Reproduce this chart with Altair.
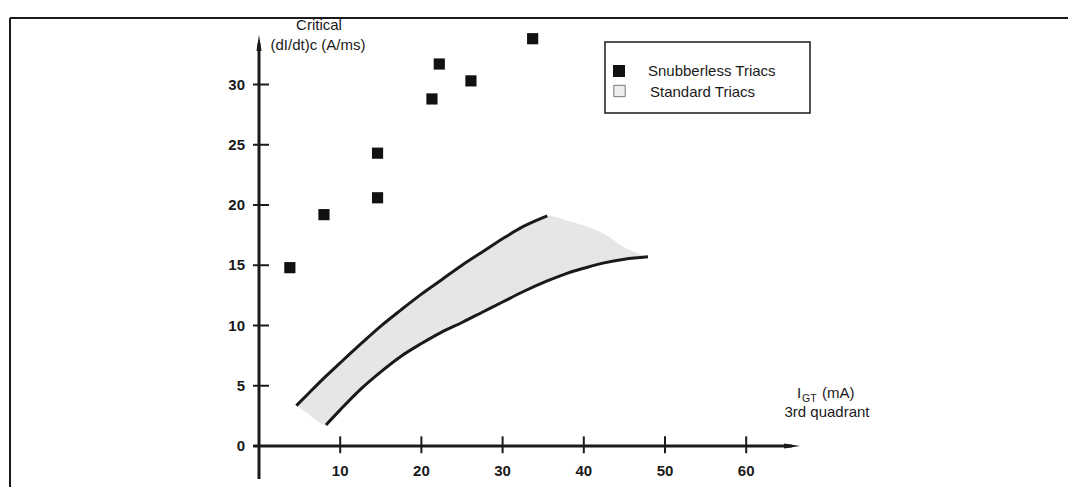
import altair as alt
import pandas as pd

# ---------------- data ----------------
# Snubberless triacs: IGT (mA) vs critical (dI/dt)c (A/ms)
snub_igt = [3.8, 8.0, 14.6, 14.6, 21.3, 22.2, 26.1, 33.7]
snub_didt = [14.8, 19.2, 24.3, 20.6, 28.8, 31.7, 30.3, 33.8]

# Standard triacs: upper and lower limit curves of the band
upper_igt = [4.6, 6, 8.25, 10, 12.5, 15, 17.5, 20, 22.5, 25, 27.5, 30, 32.5, 35.5]
upper_didt = [3.35, 4.3, 5.8, 6.9, 8.45, 9.95, 11.3, 12.6, 13.8, 15.0, 16.1, 17.2, 18.2, 19.1]
lower_igt = [8.25, 10, 12.5, 15, 17.5, 20, 22.5, 25, 27.5, 30, 32.5, 35.5, 38, 40, 42.5, 45, 47.9]
lower_didt = [1.75, 3.0, 4.7, 6.15, 7.45, 8.5, 9.45, 10.25, 11.1, 11.95, 12.8, 13.7, 14.35, 14.75, 15.2, 15.5, 15.7]

# shaded region of the standard triacs
band_igt = [4.6, 6, 8.25, 10, 12.5, 15, 17.5, 20, 22.5, 25, 27.5, 30, 32.5, 35.5, 38, 40, 42.5, 45, 47.9]
band_top = [3.35, 4.3, 5.8, 6.9, 8.45, 9.95, 11.3, 12.6, 13.8, 15.0, 16.1, 17.2, 18.2, 19.1, 18.7, 18.3, 17.6, 16.5, 15.7]
band_bottom = [3.35, 2.7, 1.75, 3.0, 4.7, 6.15, 7.45, 8.5, 9.45, 10.25, 11.1, 11.95, 12.8, 13.7, 14.35, 14.75, 15.2, 15.5, 15.7]

y_ticks = [0, 5, 10, 15, 20, 25, 30]
x_ticks = [10, 20, 30, 40, 50, 60]

y_title_lines = ["Critical", "(dI/dt)c (A/ms)"]
x_title_main = "I"
x_title_sub = "GT"
x_title_unit = "(mA)"
x_title_line2 = "3rd quadrant"
legend_labels = ["Snubberless Triacs", "Standard Triacs"]

# ---------------- layout ----------------
W, H = 1058, 469
X0_PX, X_PER = 249.0, 8.12      # plot px of IGT=0, px per mA
Y0_PX, Y_PER = 428.0, 12.05     # plot px of dI/dt=0, px per A/ms
xdom = [-X0_PX / X_PER, (W - X0_PX) / X_PER]
ydom = [-(H - Y0_PX) / Y_PER, Y0_PX / Y_PER]

xs = alt.Scale(domain=xdom, nice=False, zero=False)
ys = alt.Scale(domain=ydom, nice=False, zero=False)
FONT = "Liberation Sans"
INK = "#1a1a1a"


def X(f):
    return alt.X(f, type="quantitative", scale=xs, axis=None)


def Y(f):
    return alt.Y(f, type="quantitative", scale=ys, axis=None)


band_df = pd.DataFrame({"igt": band_igt, "top": band_top, "bottom": band_bottom})
upper_df = pd.DataFrame({"igt": upper_igt, "v": upper_didt})
lower_df = pd.DataFrame({"igt": lower_igt, "v": lower_didt})
snub_df = pd.DataFrame({"igt": snub_igt, "v": snub_didt})
yt_df = pd.DataFrame({"v": y_ticks, "lab": [str(v) for v in y_ticks]})
xt_df = pd.DataFrame({"v": x_ticks, "lab": [str(v) for v in x_ticks]})
one = pd.DataFrame({"a": [0]})

band = alt.Chart(band_df).mark_area(color="#e6e6e6", interpolate="monotone").encode(
    x=X("igt"), y=Y("top"), y2="bottom")
upper = alt.Chart(upper_df).mark_line(color=INK, strokeWidth=3, interpolate="monotone").encode(
    x=X("igt"), y=Y("v"))
lower = alt.Chart(lower_df).mark_line(color=INK, strokeWidth=3, interpolate="monotone").encode(
    x=X("igt"), y=Y("v"))
pts = alt.Chart(snub_df).mark_square(size=125, color="#111111", opacity=1).encode(
    x=X("igt"), y=Y("v"))

# axes
yaxis = alt.Chart(one).mark_rule(color=INK, strokeWidth=3).encode(
    x=alt.X(datum=0, scale=xs, axis=None), y=alt.Y(datum=-2.74, scale=ys, axis=None), y2=alt.Y2(datum=33.4))
xaxis = alt.Chart(one).mark_rule(color=INK, strokeWidth=3).encode(
    x=alt.X(datum=-0.7, scale=xs, axis=None), x2=alt.X2(datum=65.6), y=alt.Y(datum=0, scale=ys, axis=None))
yarrow = alt.Chart(one).mark_point(shape="M0,-1L0.32,1L-0.32,1Z", size=256, filled=True,
                                   color=INK, opacity=1).encode(
    x=alt.X(datum=0, scale=xs, axis=None), y=alt.Y(datum=33.45, scale=ys, axis=None))
xarrow = alt.Chart(one).mark_point(shape="M1,0L-1,-0.32L-1,0.32Z", size=256, filled=True,
                                   color=INK, opacity=1).encode(
    x=alt.X(datum=65.65, scale=xs, axis=None), y=alt.Y(datum=0, scale=ys, axis=None))
yticks = alt.Chart(yt_df).mark_rule(color=INK, strokeWidth=2).encode(
    x=alt.X(datum=-0.74, scale=xs, axis=None), x2=alt.X2(datum=1.23), y=Y("v"))
xticks = alt.Chart(xt_df).mark_rule(color=INK, strokeWidth=2).encode(
    x=X("v"), y=alt.Y(datum=0.8, scale=ys, axis=None), y2=alt.Y2(datum=-0.6))
ylabels = alt.Chart(yt_df).mark_text(font=FONT, fontSize=15, fontWeight="bold", color=INK,
                                     align="right", baseline="middle", dx=-14).encode(
    x=alt.X(datum=0, scale=xs, axis=None), y=Y("v"), text="lab:N")
xlabels = alt.Chart(xt_df).mark_text(font=FONT, fontSize=15, fontWeight="bold", color=INK,
                                     align="center", baseline="middle", dy=25).encode(
    x=X("v"), y=alt.Y(datum=0, scale=ys, axis=None), text="lab:N")


def txt(s, x, y, size=15, align="left", baseline="alphabetic", weight="normal"):
    return alt.Chart(pd.DataFrame({"t": [s]})).mark_text(
        font=FONT, fontSize=size, color=INK, align=align, baseline=baseline, fontWeight=weight
    ).encode(x=alt.value(x), y=alt.value(y), text="t:N")


titles = [
    txt(y_title_lines[0], 309, 7, align="center", baseline="middle"),
    txt(y_title_lines[1], 308, 27, align="center", baseline="middle"),
    txt(x_title_main, 787, 380),
    txt(x_title_sub, 792, 383.5, size=10.5),
    txt(x_title_unit, 812, 380),
    txt(x_title_line2, 817, 394, align="center", baseline="middle"),
]

# legend
leg_box = alt.Chart(one).mark_rect(fill="white", stroke=INK, strokeWidth=1.5).encode(
    x=alt.value(595), x2=alt.value(800), y=alt.value(24), y2=alt.value(95))
leg_sq1 = alt.Chart(one).mark_square(size=144, color="#111111", opacity=1).encode(
    x=alt.value(609), y=alt.value(53))
leg_sq2 = alt.Chart(one).mark_square(size=130, fill="#eeeeee", stroke="#777777", strokeWidth=1,
                                     opacity=1, filled=True).encode(
    x=alt.value(609.5), y=alt.value(73))
leg_t1 = txt(legend_labels[0], 638, 57.5)
leg_t2 = txt(legend_labels[1], 640, 78.5)

# frame
frame_l = alt.Chart(one).mark_rule(color=INK, strokeWidth=2).encode(
    x=alt.value(0), y=alt.value(0), y2=alt.value(H))
frame_t = alt.Chart(one).mark_rule(color=INK, strokeWidth=2).encode(
    x=alt.value(0), x2=alt.value(W), y=alt.value(0))

chart = alt.layer(
    frame_l, frame_t, band, upper, lower, yaxis, xaxis, yarrow, xarrow, yticks, xticks,
    ylabels, xlabels, pts, leg_box, leg_sq1, leg_sq2, leg_t1, leg_t2, *titles
).properties(
    width=W, height=H,
    padding={"left": 2, "top": 10, "right": 0, "bottom": 0},
    autosize=alt.AutoSizeParams(type="none"),
).configure_view(stroke=None)

chart.save("out.html", embed_options={"renderer": "svg", "actions": False})
